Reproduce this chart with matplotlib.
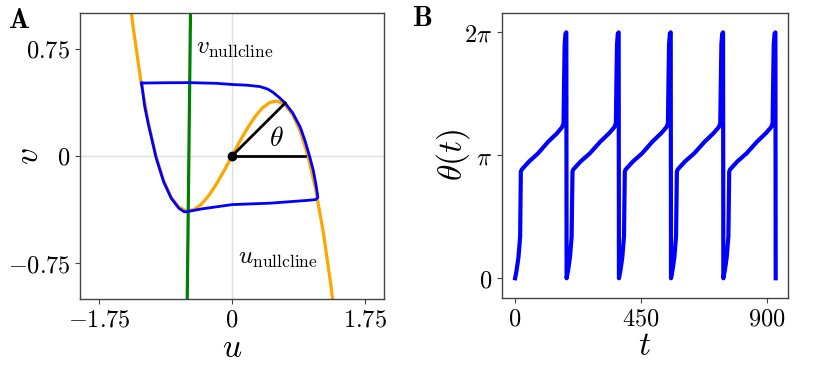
import numpy as np
from matplotlib import pyplot as plt

plt.rcParams['mathtext.fontset'] = 'cm'
plt.rcParams['font.family'] = 'serif'

# u-nullcline (orange)
u_nc = [-1.4, -1.3, -1.2, -1.1, -1.0, -0.9, -0.8, -0.7, -0.6, -0.5, -0.4, -0.3, -0.2, -0.1,
        0.0, 0.1, 0.2, 0.3, 0.4, 0.5, 0.6, 0.7, 0.8, 0.9, 1.0, 1.1, 1.2, 1.3, 1.4]
v_nc = [1.344, 0.897, 0.528, 0.231, 0.0, -0.171, -0.288, -0.357, -0.384, -0.375, -0.336, -0.273, -0.192, -0.099,
        0.0, 0.099, 0.192, 0.273, 0.336, 0.375, 0.384, 0.357, 0.288, 0.171, 0.0, -0.231, -0.528, -0.897, -1.344]

# v-nullcline (green)
u_vnc = [-0.59, -0.545]
v_vnc = [-1.05, 1.05]

# limit cycle (blue)
u_cyc = [-1.19, -0.9, -0.57, -0.2, 0.0, 0.2, 0.37, 0.47, 0.54, 0.62, 0.70, 0.80, 0.90, 0.965, 1.02,
         1.07, 1.105, 1.125, 1.13, 1.10, 1.0, 0.5, 0.0, -0.4, -0.55, -0.6, -0.63, -0.7, -0.8, -0.9,
         -1.0, -1.1, -1.15, -1.19]
v_cyc = [0.51, 0.512, 0.513, 0.508, 0.50, 0.495, 0.485, 0.468, 0.445, 0.41, 0.37, 0.30, 0.20, 0.10, 0.0,
         -0.1, -0.2, -0.27, -0.29, -0.305, -0.31, -0.33, -0.34, -0.37, -0.385, -0.39, -0.39, -0.365, -0.295, -0.18,
         -0.01, 0.22, 0.35, 0.51]

# phase angle tip
theta_tip = [0.70, 0.37]
theta_ref = [0.96, 0.0]

# theta(t), theta in units of pi
t_vals = [0, 5, 12, 18, 20.5, 24, 50, 82, 118, 150, 168, 173, 175, 177, 180, 183,
          184, 189, 196, 202, 205, 208, 234, 267, 304, 336, 355, 360, 362, 364, 367, 370,
          371, 376, 383, 389, 392, 395, 421, 454, 490, 522, 541, 546, 548, 550, 553, 556,
          557, 562, 569, 575, 578, 581, 607, 640, 677, 709, 728, 733, 735, 737, 740, 743,
          744, 749, 756, 762, 765, 768, 794, 827, 864, 896, 915, 920, 922, 924, 927, 930,
          931]
theta_vals = [0, 0.06, 0.17, 0.34, 0.867, 0.885, 0.95, 1.016, 1.11, 1.18, 1.23, 1.26, 1.6, 1.9, 1.99, 2.0,
              0, 0.06, 0.17, 0.34, 0.867, 0.885, 0.95, 1.016, 1.11, 1.18, 1.23, 1.26, 1.6, 1.9, 1.99, 2.0,
              0, 0.06, 0.17, 0.34, 0.867, 0.885, 0.95, 1.016, 1.11, 1.18, 1.23, 1.26, 1.6, 1.9, 1.99, 2.0,
              0, 0.06, 0.17, 0.34, 0.867, 0.885, 0.95, 1.016, 1.11, 1.18, 1.23, 1.26, 1.6, 1.9, 1.99, 2.0,
              0, 0.06, 0.17, 0.34, 0.867, 0.885, 0.95, 1.016, 1.11, 1.18, 1.23, 1.26, 1.6, 1.9, 1.99, 2.0,
              0]

fig = plt.figure(figsize=(8.14, 3.7), dpi=100)
ax1 = fig.add_axes([0.0983, 0.1919, 0.3734, 0.773])
ax2 = fig.add_axes([0.6163, 0.1954, 0.3521, 0.7703])

for ax in (ax1, ax2):
    for s in ax.spines.values():
        s.set_color('#444444')
        s.set_linewidth(1.0)
    ax.tick_params(labelsize=17.5, color='#444444')

# panel A
ax1.axhline(0, color='#dddddd', lw=1, zorder=0)
ax1.axvline(0, color='#dddddd', lw=1, zorder=0)
ax1.plot(u_nc, v_nc, color='orange', lw=2.3)
ax1.plot(u_vnc, v_vnc, color='green', lw=2.3)
ax1.plot(u_cyc, v_cyc, color='blue', lw=2.0)
ax1.plot([0, theta_tip[0]], [0, theta_tip[1]], color='black', lw=2)
ax1.plot([0, theta_ref[0]], [0, theta_ref[1]], color='black', lw=2)
ax1.plot([0], [0], 'o', color='black', ms=6)
ax1.text(0.59, 0.12, r'$\theta$', fontsize=20, ha='center', va='center')
ax1.text(-0.47, 0.75, r'$v_{\rm nullcline}$', fontsize=18, ha='left', va='center')
ax1.text(0.08, -0.72, r'$u_{\rm nullcline}$', fontsize=18, ha='left', va='center')
ax1.set_xlim(-2, 2)
ax1.set_ylim(-1, 1)
ax1.set_xticks([-1.75, 0, 1.75])
ax1.set_xticklabels([r'$-1.75$', r'$0$', r'$1.75$'])
ax1.set_yticks([-0.75, 0, 0.75])
ax1.set_yticklabels([r'$-0.75$', r'$0$', r'$0.75$'])
ax1.set_xlabel(r'$u$', fontsize=24, labelpad=0)
ax1.set_ylabel(r'$v$', fontsize=24, va='center')
ax1.yaxis.set_label_coords(-0.168, 0.5)

# panel B
ax2.plot(t_vals, np.array(theta_vals) * np.pi, color='blue', lw=3)
ax2.set_xlim(-48, 976)
ax2.set_ylim(-0.158 * np.pi, 2.16 * np.pi)
ax2.set_xticks([0, 450, 900])
ax2.set_xticklabels([r'$0$', r'$450$', r'$900$'])
ax2.set_yticks([0, np.pi, 2 * np.pi])
ax2.set_yticklabels([r'$0$', r'$\pi$', r'$2\pi$'])
ax2.set_xlabel(r'$t$', fontsize=24, labelpad=0)
ax2.set_ylabel(r'$\theta(t)$', fontsize=24, va='center')
ax2.yaxis.set_label_coords(-0.17, 0.5)

fig.text(19 / 814, 1 - 20 / 370, r'$\mathbf{A}$', fontsize=20, ha='center', va='center')
fig.text(422 / 814, 1 - 18 / 370, r'$\mathbf{B}$', fontsize=20, ha='center', va='center')

fig.savefig('out.png', dpi=100)
